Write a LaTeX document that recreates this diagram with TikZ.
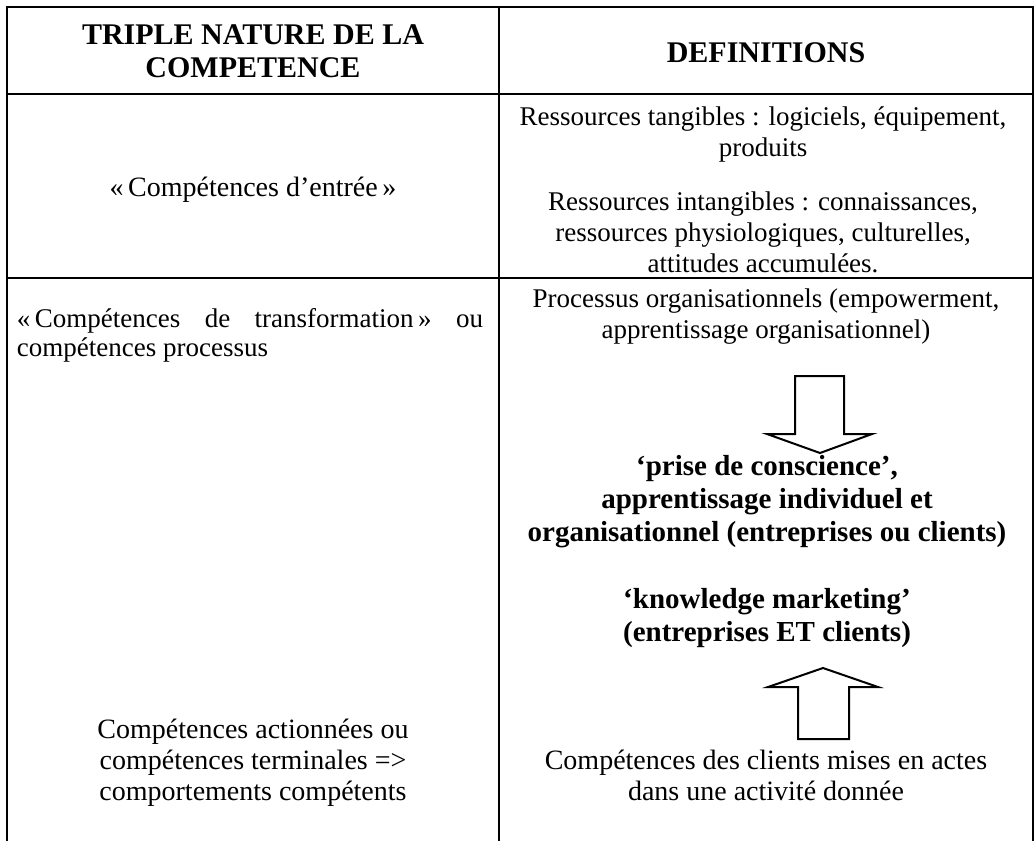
\documentclass[tikz,border=0pt]{standalone}
\usepackage{fontspec}
\setmainfont{Liberation Serif}
\usepackage{tikz}

\tikzset{
  cell/.style={inner sep=0pt, align=center, font=\fontsize{13.5}{15.5}\selectfont},
  cellwide/.style={cell, font=\fontsize{14}{15.5}\selectfont},
  cellbold/.style={inner sep=0pt, align=center, font=\fontsize{14.5}{16.5}\selectfont\bfseries},
  header/.style={inner sep=0pt, align=center, font=\fontsize{15}{16.5}\selectfont\bfseries},
  rule/.style={line width=1.2pt},
  blockarrow/.style={line width=1pt, line join=miter, fill=white}
}

\begin{document}
\begin{tikzpicture}[x=0.5pt,y=0.5pt,yscale=-1,xscale=1]
\useasboundingbox (0,0) rectangle (1036,841);

%Shape: Table frame
\draw [rule] (7,841) -- (7,7) -- (1033,7) -- (1033,841) ;
%Straight Lines
\draw [rule] (499,7) -- (499,841) ;
%Straight Lines
\draw [rule] (7,94) -- (1033,94) ;
%Straight Lines
\draw [rule] (7,278) -- (1033,278) ;

%Shape: Down Arrow
\draw [blockarrow] (795,376) -- (844,376) -- (844,434) -- (872,434) -- (820,453) -- (767,434) -- (795,434) -- cycle ;
%Shape: Up Arrow
\draw [blockarrow] (798,739) -- (849,739) -- (849,687) -- (878,687) -- (823,668) -- (768,687) -- (798,687) -- cycle ;

% Text Node
\draw (253,51) node (hdnature) [header] {TRIPLE NATURE DE LA\\COMPETENCE};
% Text Node
\draw (766,53) node (hddef) [header] {DEFINITIONS};
% Text Node
\draw (253,190) node (entree) [cellwide] {«\,Compétences d’entrée\,»};
% Text Node
\draw (763,134) node (tangibles) [cell] {Ressources tangibles : logiciels, équipement,\\produits};
% Text Node
\draw (763,232) node (intangibles) [cell] {Ressources intangibles : connaissances,\\ressources physiologiques, culturelles,\\attitudes accumulées.};
% Text Node
\draw (250,335) node (transfo) [cell, font=\fontsize{13.5}{14.5}\selectfont, align=justify, text width=233pt] {«\,Compétences de transformation\,» ou\linebreak compétences processus};
% Text Node
\draw (766,317) node (processus) [cell] {Processus organisationnels (empowerment,\\apprentissage organisationnel)};
% Text Node
\draw (767,502) node (prise) [cellbold] {‘prise de conscience’,\\apprentissage individuel et\\organisationnel (entreprises ou clients)};
% Text Node
\draw (767,618) node (knowledge) [cellbold] {‘knowledge marketing’\\(entreprises ET clients)};
% Text Node
\draw (766,775) node (clients) [cellwide] {Compétences des clients mises en actes\\dans une activité donnée};
% Text Node
\draw (253,763) node (actionnees) [cellwide] {Compétences actionnées ou\\compétences terminales =>\\comportements compétents};

\end{tikzpicture}
\end{document}
